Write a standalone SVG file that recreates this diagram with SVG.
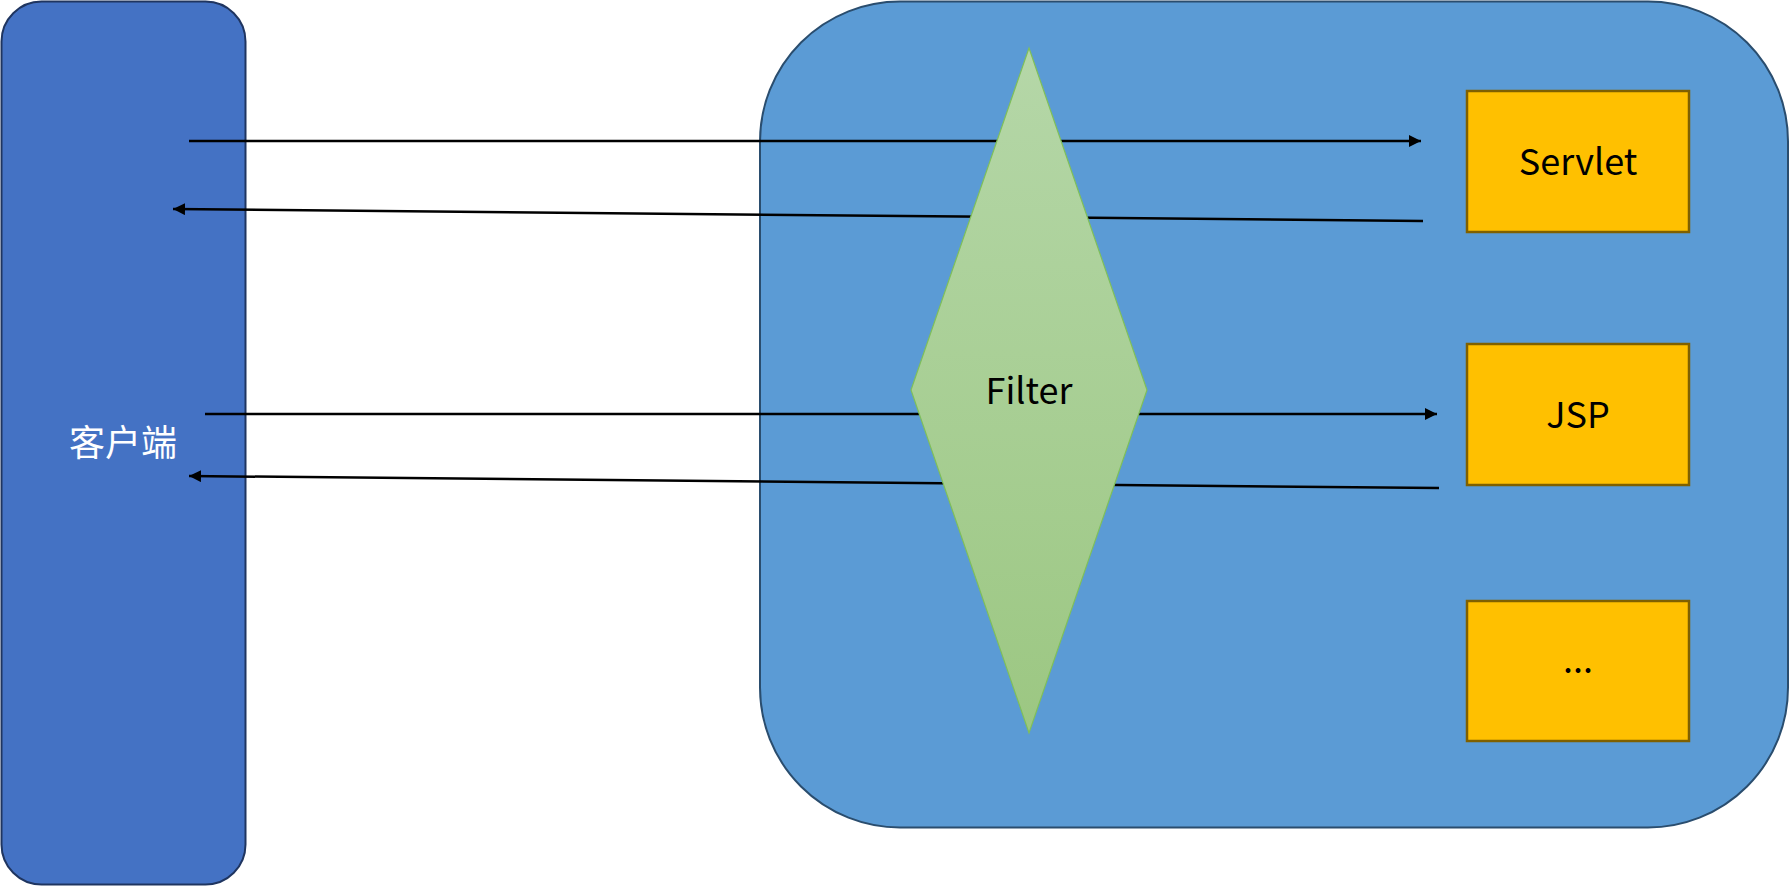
<svg xmlns="http://www.w3.org/2000/svg" width="1790" height="886" viewBox="0 0 1790 886">
<defs>
<linearGradient id="gf" x1="0" y1="0" x2="0" y2="1">
<stop offset="0" stop-color="#b5d7a8"/>
<stop offset="1" stop-color="#9cc782"/>
</linearGradient>
<marker id="ah" markerWidth="12" markerHeight="12" refX="12" refY="6" orient="auto" markerUnits="userSpaceOnUse">
<path d="M0,0 L12,6 L0,12 z" fill="#000"/>
</marker>
<style>
.t{font-family:"Noto Sans CJK SC","Noto Sans",sans-serif;font-size:36px;text-anchor:middle}
.box{fill:#ffc000;stroke:#7f6000;stroke-width:2.5}
.c{stroke:#000;stroke-width:2.5;fill:none;marker-end:url(#ah)}
</style>
</defs>
<rect width="1790" height="886" fill="#fff"/>
<g id="client">
<rect x="1.5" y="1.5" width="244" height="883" rx="40" fill="#4472c4" stroke="#1f3560" stroke-width="2"/>
<text class="t" x="123" y="456" fill="#fff">客户端</text>
</g>
<g id="container">
<rect x="760" y="1.5" width="1028" height="826" rx="140" fill="#5b9bd5" stroke="#2a4d6e" stroke-width="2"/>
</g>
<g id="servlet">
<rect class="box" x="1467" y="91" width="222" height="141"/>
<text class="t" x="1578" y="175" fill="#000">Servlet</text>
</g>
<g id="jsp">
<rect class="box" x="1467" y="344" width="222" height="141"/>
<text class="t" x="1578" y="428" fill="#000">JSP</text>
</g>
<g id="more">
<rect class="box" x="1467" y="601" width="222" height="140"/>
<text class="t" x="1578" y="673" fill="#000">...</text>
</g>
<g id="connectors">
<line class="c" x1="189" y1="141" x2="1421" y2="141"/>
<line class="c" x1="1423" y1="221" x2="173" y2="209"/>
<line class="c" x1="205" y1="414" x2="1437" y2="414"/>
<line class="c" x1="1439" y1="488" x2="189" y2="476"/>
</g>
<g id="filter">
<polygon points="1029,48 1147,390 1029,733 911,390" fill="url(#gf)" stroke="#7fbf5a" stroke-width="1.2"/>
<text class="t" x="1029" y="404" fill="#000">Filter</text>
</g>
</svg>
